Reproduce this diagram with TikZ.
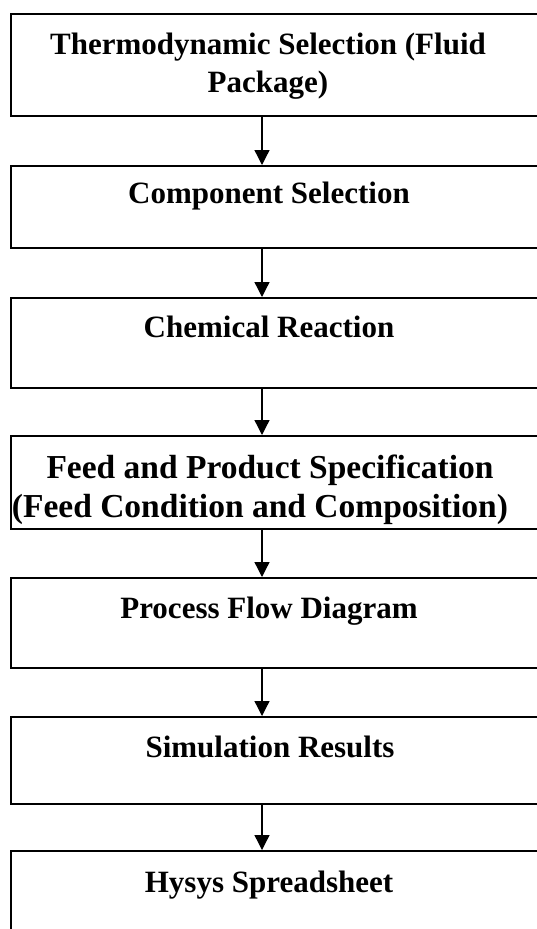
\documentclass[tikz,border=0pt]{standalone}
\usepackage{fontspec}
\setmainfont{Liberation Serif}
\usetikzlibrary{arrows.meta}
\begin{document}
\begin{tikzpicture}[x=1pt,y=-1pt,
  stepbox/.style={draw=black,line width=1.8pt,rectangle,minimum width=560pt,inner sep=0pt,anchor=north west},
  steptxt/.style={font=\bfseries\fontsize{31}{38}\selectfont,inner sep=0pt,anchor=base,align=center},
  bigtxt/.style={steptxt,font=\bfseries\fontsize{33.5}{39}\selectfont},
  flow/.style={line width=1.3pt,-{Triangle[length=15pt,width=15pt]}}]
\clip (0,0) rectangle (537,929);
\coordinate (ax) at (262,0);
\node[stepbox,minimum height=102pt] (b1) at (10,13) {};
\node[stepbox,minimum height=82pt] (b2) at (10,165) {};
\node[stepbox,minimum height=90pt] (b3) at (10,297) {};
\node[stepbox,minimum height=93pt] (b4) at (10,435) {};
\node[stepbox,minimum height=90pt] (b5) at (10,577) {};
\node[stepbox,minimum height=87pt] (b6) at (10,716) {};
\node[stepbox,minimum height=120pt] (b7) at (10,850) {};
\node[steptxt] (t1) at (268,92) {Thermodynamic Selection (Fluid\\Package)};
\node[steptxt] (t2) at (269,203) {Component Selection};
\node[steptxt] (t3) at (269,337) {Chemical Reaction};
\node[bigtxt] (t4) at (260,517) {\hspace*{20pt}Feed and Product Specification\\(Feed Condition and Composition)};
\node[steptxt] (t5) at (269,618) {Process Flow Diagram};
\node[steptxt] (t6) at (270,757) {Simulation Results};
\node[steptxt] (t7) at (269,892) {Hysys Spreadsheet};
\draw[flow] (b1.south -| ax) -- (b2.north -| ax);
\draw[flow] (b2.south -| ax) -- (b3.north -| ax);
\draw[flow] (b3.south -| ax) -- (b4.north -| ax);
\draw[flow] (b4.south -| ax) -- (b5.north -| ax);
\draw[flow] (b5.south -| ax) -- (b6.north -| ax);
\draw[flow] (b6.south -| ax) -- (b7.north -| ax);
\end{tikzpicture}
\end{document}
